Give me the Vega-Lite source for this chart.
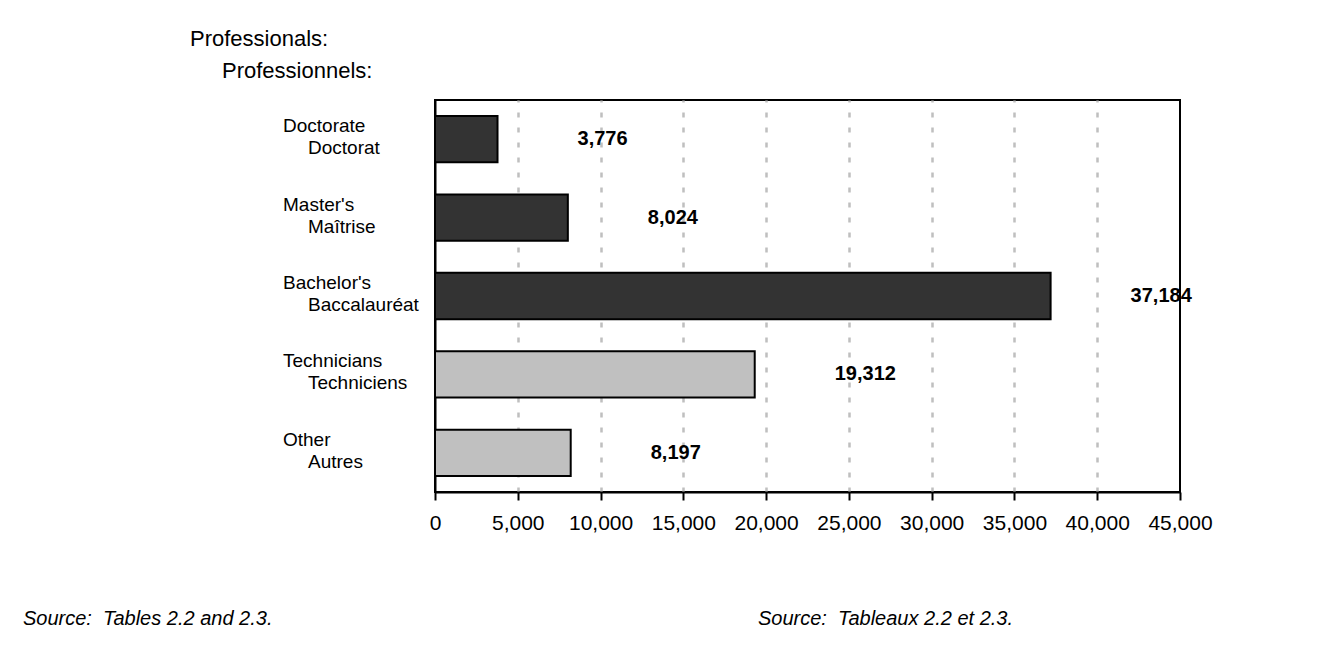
{
  "$schema": "https://vega.github.io/schema/vega-lite/v6.json",
  "width": 745,
  "height": 392,
  "autosize": {"type": "none"},
  "padding": {"left": 435, "top": 100, "right": 146, "bottom": 162},
  "background": "white",
  "config": {
    "font": "Liberation Sans, Arial, sans-serif",
    "view": {"stroke": "black", "strokeWidth": 2}
  },
  "data": {
    "values": [
      {"en": "Doctorate", "fr": "Doctorat", "count": 3776, "group": "Professionals"},
      {"en": "Master's", "fr": "Maîtrise", "count": 8024, "group": "Professionals"},
      {"en": "Bachelor's", "fr": "Baccalauréat", "count": 37184, "group": "Professionals"},
      {"en": "Technicians", "fr": "Techniciens", "count": 19312, "group": "Other"},
      {"en": "Other", "fr": "Autres", "count": 8197, "group": "Other"}
    ]
  },
  "layer": [
    {
      "mark": {"type": "bar", "stroke": "black", "strokeWidth": 2},
      "encoding": {
        "y": {
          "field": "en", "type": "nominal", "sort": null,
          "scale": {"paddingInner": 0.41, "paddingOuter": 0.205},
          "axis": {
            "labels": false, "ticks": false, "domain": true, "domainColor": "black", "domainWidth": 2,
            "title": null, "grid": false
          }
        },
        "x": {
          "field": "count", "type": "quantitative",
          "scale": {"domain": [0, 45000], "nice": false},
          "axis": {
            "values": [0, 5000, 10000, 15000, 20000, 25000, 30000, 35000, 40000, 45000],
            "format": ",d", "title": null, "labelOverlap": false, "labelFlush": false,
            "grid": true, "gridColor": "#bfbfbf", "gridDash": [5, 10], "gridWidth": 2.5,
            "gridOpacity": {"condition": {"test": "datum.value == 0 || datum.value == 45000", "value": 0}, "value": 1},
            "domainColor": "black", "domainWidth": 2,
            "tickColor": "black", "tickWidth": 2, "tickSize": 8,
            "labelFontSize": 21, "labelColor": "black", "labelPadding": 12
          }
        },
        "color": {
          "field": "group", "type": "nominal",
          "scale": {"domain": ["Professionals", "Other"], "range": ["#333333", "#c0c0c0"]},
          "legend": null
        }
      }
    },
    {
      "mark": {"type": "text", "fontWeight": "bold", "fontSize": 20, "align": "left", "baseline": "middle", "dx": 80, "color": "black"},
      "encoding": {
        "y": {"field": "en", "type": "nominal", "sort": null},
        "x": {"field": "count", "type": "quantitative"},
        "text": {"field": "count", "type": "quantitative", "format": ","}
      }
    },
    {
      "mark": {"type": "text", "fontSize": 19, "align": "left", "baseline": "alphabetic", "dx": -152, "dy": -7, "color": "black"},
      "encoding": {
        "y": {"field": "en", "type": "nominal", "sort": null},
        "x": {"datum": 0, "type": "quantitative"},
        "text": {"field": "en"}
      }
    },
    {
      "mark": {"type": "text", "fontSize": 19, "align": "left", "baseline": "alphabetic", "dx": -127, "dy": 15, "color": "black"},
      "encoding": {
        "y": {"field": "en", "type": "nominal", "sort": null},
        "x": {"datum": 0, "type": "quantitative"},
        "text": {"field": "fr"}
      }
    },
    {
      "data": {"values": [{"t": "Professionals:"}]},
      "mark": {"type": "text", "fontSize": 22, "align": "left", "baseline": "alphabetic", "dy": -93, "color": "black"},
      "encoding": {
        "y": {"datum": "Doctorate", "type": "nominal"},
        "x": {"datum": -14799, "type": "quantitative"},
        "text": {"field": "t"}
      }
    },
    {
      "data": {"values": [{"t": "Professionnels:"}]},
      "mark": {"type": "text", "fontSize": 22, "align": "left", "baseline": "alphabetic", "dy": -61, "color": "black"},
      "encoding": {
        "y": {"datum": "Doctorate", "type": "nominal"},
        "x": {"datum": -12866, "type": "quantitative"},
        "text": {"field": "t"}
      }
    },
    {
      "data": {"values": [{"src": "Source:\u00a0 Tables 2.2 and 2.3."}]},
      "mark": {"type": "text", "fontSize": 20, "fontStyle": "italic", "align": "left", "baseline": "alphabetic", "dy": 172, "color": "black"},
      "encoding": {
        "y": {"datum": "Other", "type": "nominal"},
        "x": {"datum": -24886, "type": "quantitative"},
        "text": {"field": "src"}
      }
    },
    {
      "data": {"values": [{"src": "Source:\u00a0 Tableaux 2.2 et 2.3."}]},
      "mark": {"type": "text", "fontSize": 20, "fontStyle": "italic", "align": "left", "baseline": "alphabetic", "dy": 172, "color": "black"},
      "encoding": {
        "y": {"datum": "Other", "type": "nominal"},
        "x": {"datum": 19510, "type": "quantitative"},
        "text": {"field": "src"}
      }
    }
  ]
}
